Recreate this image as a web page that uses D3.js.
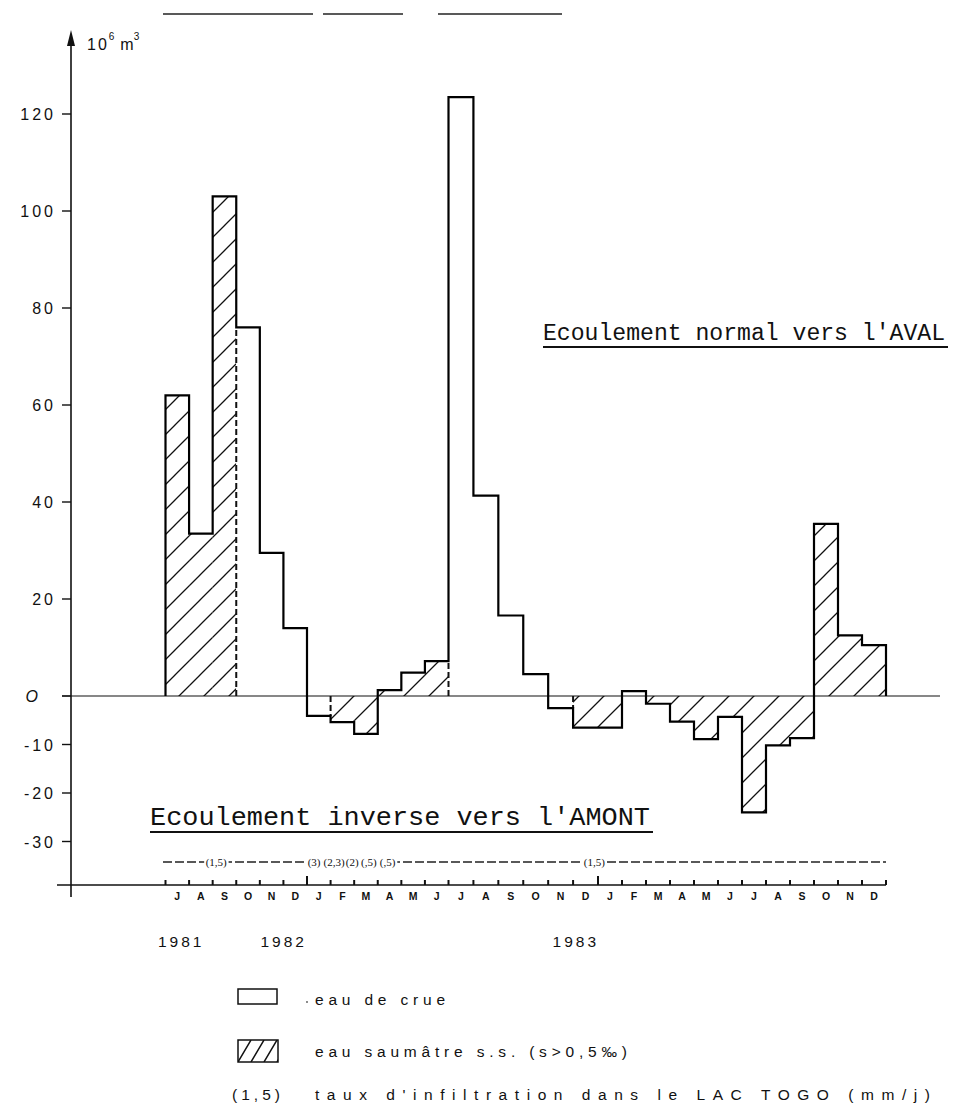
<!DOCTYPE html>
<html><head><meta charset="utf-8">
<script src="https://cdn.jsdelivr.net/npm/d3@7"></script>
<style>body{margin:0;background:#fff} svg{display:block}</style>
</head><body>
<svg id="chart" width="954" height="1114"></svg>
<script>
// ---- data ----
const months = ["J","A","S","O","N","D","J","F","M","A","M","J","J","A","S","O","N","D","J","F","M","A","M","J","J","A","S","O","N","D"];
const values = [62,33.5,103,76,29.5,14,-4.1,-5.4,-7.8,1.2,4.8,7.2,123.5,41.3,16.6,4.5,-2.5,-6.5,-6.5,1,-1.6,-5.3,-8.9,-4.3,-24,-10.2,-8.7,35.5,12.5,10.5];
// b = eau saumâtre (hatched), f = eau de crue (blank)
const waterType = ["b","b","b","f","f","f","f","b","b","b","b","b","f","f","f","f","f","b","b","f","b","b","b","b","b","b","b","b","b","b"];
const yTicks = [120,100,80,60,40,20,0,-10,-20,-30];
const yTickLabels = ["120","100","80","60","40","20","O","-10","-20","-30"];
const years = ["1981","1982","1983"];
const yearPos = [0.6, 4.95, 17.05];
const infilLabels = ["(1,5)","(3)","(2,3)","(2)","(,5)","(,5)","(1,5)"];
const infilPos = [2.15, 6.3, 7.15, 7.92, 8.62, 9.42, 17.85];
const legendTexts = ["eau de crue","eau saumâtre s.s. (s>0,5‰)","taux d'infiltration dans le LAC TOGO (mm/j)"];

// ---- scales ----
const svg = d3.select("#chart");
const x = d3.scaleLinear().domain([0,12,18,30]).range([165.5,448.5,598,886]);
const y = d3.scaleLinear().domain([-30,120]).range([841.5,114]);
const FONT = "'Liberation Sans', Arial, sans-serif";
const MONO = "'Liberation Mono', 'Courier New', monospace";

// patterns
const defs = svg.append("defs");
const p1 = defs.append("pattern").attr("id","hatch").attr("patternUnits","userSpaceOnUse")
  .attr("width",25).attr("height",25);
p1.append("path").attr("d","M-3,3 L3,-3 M0,25 L25,0 M22,28 L28,22")
  .attr("stroke","#111").attr("stroke-width",1.3);
const p2 = defs.append("pattern").attr("id","hatchS").attr("patternUnits","userSpaceOnUse")
  .attr("width",13).attr("height",22).attr("x",238).attr("y",1040);
p2.append("path").attr("d","M0,22 L13,0 M-13,22 L0,0 M13,22 L26,0")
  .attr("stroke","#111").attr("stroke-width",1.5);

// decorative scan lines at top
svg.append("g").attr("stroke","#222").attr("stroke-width",1.6)
  .selectAll("line").data([[163,313],[323,403],[438,562]]).join("line")
  .attr("x1",d=>d[0]).attr("x2",d=>d[1]).attr("y1",14).attr("y2",14);

// ---- bars (fills) ----
svg.append("g").selectAll("rect").data(values).join("rect")
  .attr("x",(d,i)=>x(i)).attr("width",(d,i)=>x(i+1)-x(i))
  .attr("y",d=>Math.min(y(d),y(0))).attr("height",d=>Math.abs(y(d)-y(0)))
  .attr("fill",(d,i)=>waterType[i]==="b"?"url(#hatch)":"#fff");

// zero baseline
svg.append("line").attr("x1",62).attr("x2",940).attr("y1",y(0)).attr("y2",y(0))
  .attr("stroke","#111").attr("stroke-width",1.2);

// dashed separators between water types
const seps = [];
for (let i=1;i<values.length;i++){
  if (waterType[i]!==waterType[i-1] && Math.sign(values[i])===Math.sign(values[i-1])){
    const s = Math.sign(values[i]);
    seps.push({i, v: s*Math.min(Math.abs(values[i]),Math.abs(values[i-1]))});
  }
}
svg.append("g").selectAll("line").data(seps).join("line")
  .attr("x1",d=>x(d.i)).attr("x2",d=>x(d.i)).attr("y1",y(0)).attr("y2",d=>y(d.v))
  .attr("stroke","#111").attr("stroke-width",2).attr("stroke-dasharray","6,3");

// step outline
const pts = [[0,0]].concat(values.map((v,i)=>[i,v]), [[values.length,values[values.length-1]],[values.length,0]]);
svg.append("path").attr("d", d3.line().x(d=>x(d[0])).y(d=>y(d[1])).curve(d3.curveStepAfter)(pts))
  .attr("fill","none").attr("stroke","#000").attr("stroke-width",2.2).attr("stroke-linejoin","miter");

// ---- y axis ----
const yAxisX = 71;
svg.append("line").attr("x1",yAxisX).attr("x2",yAxisX).attr("y1",40).attr("y2",897)
  .attr("stroke","#111").attr("stroke-width",1.6);
svg.append("path").attr("d",`M${yAxisX-4},46 L${yAxisX},30 L${yAxisX+4},46 Z`).attr("fill","#111");
const yg = svg.append("g").selectAll("g").data(yTicks).join("g");
yg.append("line").attr("x1",yAxisX-9).attr("x2",yAxisX).attr("y1",d=>y(d)).attr("y2",d=>y(d))
  .attr("stroke","#111").attr("stroke-width",1.4);
yg.append("text").attr("x",(d,i)=>yTickLabels[i]==="O"?38:56).attr("y",d=>y(d)+6)
  .attr("text-anchor","end").attr("font-family",FONT).attr("font-size",16)
  .attr("letter-spacing",(d,i)=>yTickLabels[i]==="O"?0:3)
  .attr("font-style",(d,i)=>yTickLabels[i]==="O"?"italic":"normal")
  .attr("fill","#111").text((d,i)=>yTickLabels[i]);

// unit label
const unit = svg.append("text").attr("x",87).attr("y",50).attr("font-family",FONT).attr("font-size",16).attr("fill","#111");
unit.append("tspan").attr("letter-spacing",2).text("10");
unit.append("tspan").attr("dy",-10).attr("font-size",10).text("6");
unit.append("tspan").attr("dy",10).attr("dx",6).text("m");
unit.append("tspan").attr("dy",-10).attr("font-size",10).text("3");

// ---- x axis ----
const axY = 885;
svg.append("line").attr("x1",57).attr("x2",886).attr("y1",axY).attr("y2",axY)
  .attr("stroke","#111").attr("stroke-width",1.6);
svg.append("g").selectAll("line").data(d3.range(months.length+1)).join("line")
  .attr("x1",d=>x(d)).attr("x2",d=>x(d)).attr("y1",axY)
  .attr("y2",d=>(d===6||d===18)?axY-9:axY-5)
  .attr("stroke","#111").attr("stroke-width",2);
svg.append("g").selectAll("text").data(months).join("text")
  .attr("x",(d,i)=>x(i+0.5)).attr("y",900).attr("text-anchor","middle")
  .attr("font-family",FONT).attr("font-size",10.5).attr("font-weight","bold").attr("fill","#111")
  .text(d=>d);
svg.append("g").selectAll("text").data(years).join("text")
  .attr("x",(d,i)=>x(yearPos[i])+1.5).attr("y",947).attr("text-anchor","middle")
  .attr("font-family",FONT).attr("font-size",15.5).attr("letter-spacing",3).attr("fill","#111")
  .text(d=>d);

// infiltration dashed row
const infY = 862;
svg.append("line").attr("x1",163).attr("x2",886).attr("y1",infY).attr("y2",infY)
  .attr("stroke","#222").attr("stroke-width",1.3).attr("stroke-dasharray","9,3");
const infBg = svg.append("g");
const infTx = svg.append("g").selectAll("text").data(infilLabels).join("text")
  .attr("x",(d,i)=>x(infilPos[i])).attr("y",infY+4).attr("text-anchor","middle")
  .attr("font-family","'Liberation Serif', serif").attr("font-size",11).attr("fill","#111")
  .text(d=>d);
infTx.each(function(){
  const b = this.getBBox();
  infBg.append("rect").attr("x",b.x-1.5).attr("y",b.y).attr("width",b.width+3).attr("height",b.height).attr("fill","#fff");
});

// flow annotations
function note(txt, x0, x1, base, size){
  svg.append("text").attr("x",x0).attr("y",base).attr("font-family",MONO).attr("font-size",size)
    .attr("textLength",x1-x0).attr("lengthAdjust","spacingAndGlyphs").attr("fill","#111").text(txt);
  svg.append("line").attr("x1",x0).attr("x2",x1+3).attr("y1",base+7).attr("y2",base+7)
    .attr("stroke","#111").attr("stroke-width",1.8);
}
note("Ecoulement normal vers l'AVAL", 543, 945, 340, 23.5);
note("Ecoulement inverse vers l'AMONT", 150, 650, 825, 26.5);

// ---- legend ----
svg.append("rect").attr("x",238).attr("y",989).attr("width",39).attr("height",15)
  .attr("fill","#fff").attr("stroke","#111").attr("stroke-width",1.5);
svg.append("rect").attr("x",238).attr("y",1040).attr("width",40).attr("height",22)
  .attr("fill","url(#hatchS)").attr("stroke","#111").attr("stroke-width",1.5);
svg.append("circle").attr("cx",307).attr("cy",1002).attr("r",0.9).attr("fill","#555");
const legY = [1005, 1057, 1100];
const legW = [130, 312, 615];
svg.append("g").selectAll("text").data(legendTexts).join("text")
  .attr("x",315).attr("y",(d,i)=>legY[i]).attr("font-family",FONT).attr("font-size",15.5)
  .attr("textLength",(d,i)=>legW[i]).attr("lengthAdjust","spacing").attr("fill","#111")
  .text(d=>d);
svg.append("text").attr("x",232).attr("y",1100).attr("font-family",FONT).attr("font-size",15.5)
  .attr("textLength",48).attr("lengthAdjust","spacing").attr("fill","#111").text("(1,5)");
</script>
</body></html>
